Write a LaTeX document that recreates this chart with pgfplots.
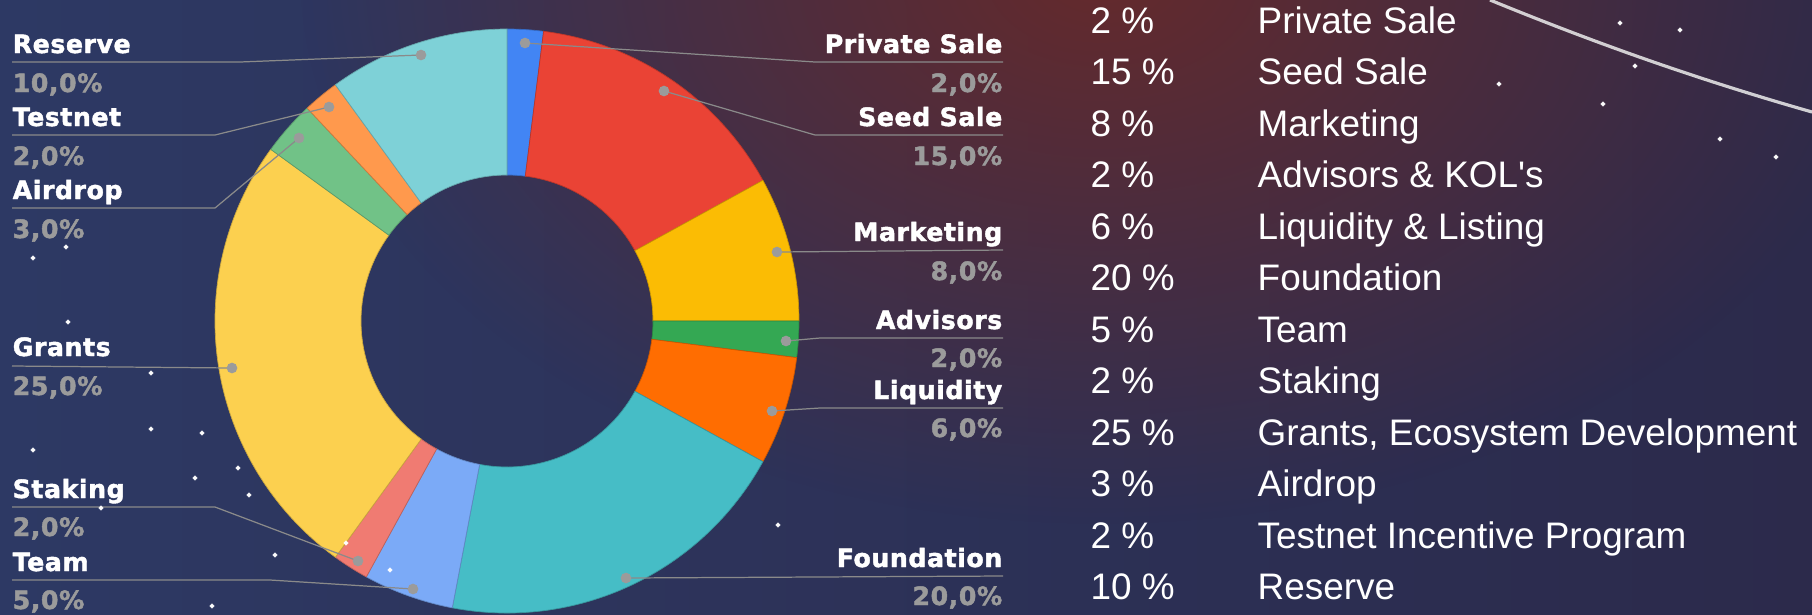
\documentclass[border=0pt]{standalone}
\usepackage{fontspec}
\setmainfont{Liberation Sans}
\newfontfamily\heavy{DejaVu Sans}[BoldFeatures={FakeBold=1.6, LetterSpace=2}]
\usepackage{pgfplots}
\pgfplotsset{compat=1.18}
\usepackage{pgfplotstable}
\usetikzlibrary{fadings}
\tikzfading[name=glowfade, inner color=transparent!0, outer color=transparent!100]

% slice colours, clockwise from the top
\definecolor{c0}{HTML}{4285F4}
\definecolor{c1}{HTML}{EA4335}
\definecolor{c2}{HTML}{FBBC04}
\definecolor{c3}{HTML}{34A853}
\definecolor{c4}{HTML}{FF6D01}
\definecolor{c5}{HTML}{46BDC6}
\definecolor{c6}{HTML}{7BAAF7}
\definecolor{c7}{HTML}{F07B72}
\definecolor{c8}{HTML}{FCD04F}
\definecolor{c9}{HTML}{71C287}
\definecolor{c10}{HTML}{FF994D}
\definecolor{c11}{HTML}{7ED1D7}
\definecolor{bgleft}{HTML}{2D3964}
\definecolor{bgright}{HTML}{2C2A4B}
\definecolor{glow}{HTML}{652A2C}
\definecolor{lead}{HTML}{8A8A8A}
\definecolor{pct}{HTML}{9B9B9B}

\pgfplotstableread{
name value
{Private Sale} 2
{Seed Sale} 15
Marketing 8
Advisors 2
Liquidity 6
Foundation 20
Team 5
Staking 2
Grants 25
Airdrop 3
Testnet 2
Reserve 10
}\slices

\newcommand\labfont{\heavy\bfseries\fontsize{7.2}{8}\selectfont}
\newcommand\leftlabel[4]{%
  \node[anchor=base west, text=white, font=\labfont, inner sep=0pt] at (axis cs:12,#2) {#1};
  \node[anchor=base west, text=pct, font=\labfont, inner sep=0pt] at (axis cs:12,#4) {#3};}
\newcommand\rightlabel[4]{%
  \node[anchor=base east, text=white, font=\labfont, inner sep=0pt] at (axis cs:1003,#2) {#1};
  \node[anchor=base east, text=pct, font=\labfont, inner sep=0pt] at (axis cs:1003,#4) {#3};}
\newcommand\row[3]{%
  \node[anchor=base west, text=white, font=\fontsize{10.5}{12}\selectfont, inner sep=0pt] at (axis cs:1090,#1) {#2};
  \node[anchor=base west, text=white, font=\fontsize{10.5}{12}\selectfont, inner sep=0pt] at (axis cs:1257,#1) {#3};}

\begin{document}
\begin{tikzpicture}
\begin{scope}
  \clip (0,0) rectangle (181.2mm,61.4mm);
  \shade[left color=bgleft, right color=bgright] (0,0) rectangle (181.2mm,61.4mm);
  \fill[glow, path fading=glowfade] (110mm,64mm) ellipse [x radius=80mm, y radius=55mm];
\end{scope}
\begin{axis}[
  at={(0,0)}, anchor=south west,
  width=181.2mm, height=61.4mm, scale only axis,
  xmin=0, xmax=1812, ymin=0, ymax=614, y dir=reverse,
  hide axis, clip=false
]
% donut slices from the table
\def\cum{0}
\pgfplotsforeachungrouped \i in {0,...,11}{%
  \pgfplotstablegetelem{\i}{value}\of\slices
  \pgfmathsetmacro\aA{90-3.6*\cum}
  \pgfmathsetmacro\cumnew{\cum+\pgfplotsretval}
  \pgfmathsetmacro\aB{90-3.6*\cumnew}
  \let\cum\cumnew
  \edef\temp{\noexpand\fill[fill=c\i, draw=c\i!80!black, line width=0.2pt]
    (axis cs:{507+292*cos(\aA)},{321-292*sin(\aA)})
    arc[start angle=\aA, end angle=\aB, radius=29.2mm]
    -- (axis cs:{507+146*cos(\aB)},{321-146*sin(\aB)})
    arc[start angle=\aB, end angle=\aA, radius=14.6mm] -- cycle;}
  \temp
}

% decoration: arc and stars
\draw[white!85!gray, line width=0.9pt, opacity=0.85]
  (axis cs:1490,0) .. controls (axis cs:1600,45) and (axis cs:1700,80) .. (axis cs:1812,112);
\addplot[only marks, mark=*, mark size=0.45pt, white, opacity=0.9] coordinates {
  (1620,23) (1635,66) (1499,84) (1603,104) (1720,139) (1776,157) (1680,30)
  (66,247) (33,258) (68,322) (151,373) (151,429) (202,433) (33,450) (238,468)
  (195,478) (249,495) (101,508) (346,543) (275,555) (390,570) (212,606) (778,525)};

% leader lines
\addplot[lead, line width=0.35pt] coordinates {(1003,62) (815,62) (525,43)};
\addplot[lead, line width=0.35pt] coordinates {(1003,135) (815,135) (664,91)};
\addplot[lead, line width=0.35pt] coordinates {(1003,250) (777,252)};
\addplot[lead, line width=0.35pt] coordinates {(1003,338) (820,338) (786,341)};
\addplot[lead, line width=0.35pt] coordinates {(1003,408) (820,408) (772,411)};
\addplot[lead, line width=0.35pt] coordinates {(1003,576) (626,578)};
\addplot[lead, line width=0.35pt] coordinates {(12,62) (240,62) (421,55)};
\addplot[lead, line width=0.35pt] coordinates {(12,135) (215,135) (329,107)};
\addplot[lead, line width=0.35pt] coordinates {(12,208) (215,208) (299,138)};
\addplot[lead, line width=0.35pt] coordinates {(12,366) (232,368)};
\addplot[lead, line width=0.35pt] coordinates {(12,507) (215,507) (358,561)};
\addplot[lead, line width=0.35pt] coordinates {(12,580) (270,580) (413,589)};
\addplot[pct, only marks, mark=*, mark size=1.3pt, mark options={draw=pct, fill=pct}] coordinates {
  (525,43) (664,91) (777,252) (786,341) (772,411) (626,578)
  (421,55) (329,107) (299,138) (232,368) (358,561) (413,589)};

% slice labels
\rightlabel{Private Sale}{53}{2,0\%}{92}
\rightlabel{Seed Sale}{126}{15,0\%}{165}
\rightlabel{Marketing}{241}{8,0\%}{280}
\rightlabel{Advisors}{329}{2,0\%}{367}
\rightlabel{Liquidity}{399}{6,0\%}{437}
\rightlabel{Foundation}{567}{20,0\%}{605}
\leftlabel{Reserve}{53}{10,0\%}{92}
\leftlabel{Testnet}{126}{2,0\%}{165}
\leftlabel{Airdrop}{199}{3,0\%}{238}
\leftlabel{Grants}{356}{25,0\%}{395}
\leftlabel{Staking}{498}{2,0\%}{536}
\leftlabel{Team}{571}{5,0\%}{609}

% list on the right
\row{33}{2 \%}{Private Sale}
\row{84.5}{15 \%}{Seed Sale}
\row{136}{8 \%}{Marketing}
\row{187.5}{2 \%}{Advisors \& KOL\textquotesingle s}
\row{239}{6 \%}{Liquidity \& Listing}
\row{290.5}{20 \%}{Foundation}
\row{342}{5 \%}{Team}
\row{393.5}{2 \%}{Staking}
\row{445}{25 \%}{Grants, Ecosystem Development}
\row{496.5}{3 \%}{Airdrop}
\row{548}{2 \%}{Testnet Incentive Program}
\row{599.5}{10 \%}{Reserve}
\end{axis}
\pgfresetboundingbox
\useasboundingbox (0,0) rectangle (181.2mm,61.4mm);
\end{tikzpicture}
\end{document}
